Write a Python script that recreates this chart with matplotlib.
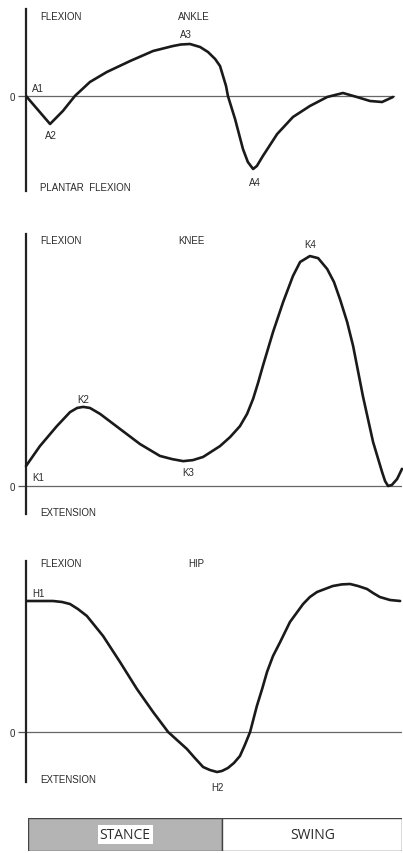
import matplotlib
matplotlib.use("Agg")
import matplotlib.pyplot as plt

# ---- data (gait cycle %, joint angle in degrees) ----
ankle_x = [0, 6.4, 9.8, 13.0, 17.0, 21.5, 27.7, 33.8, 39.1, 41.2, 43.6, 46.3, 48.4, 50.3, 51.6,
           52.4, 53.2, 53.7, 55.6, 57.7, 59.0, 60.4, 61.4, 63.0, 66.8, 71.0, 75.5, 80.1, 84.3,
           88.0, 91.5, 94.7, 97.6]
ankle_y = [0, -5.6, -3.0, 0, 2.8, 4.8, 7.0, 9.0, 10.0, 10.3, 10.4, 9.8, 8.8, 7.4, 6.0,
           4.0, 2.0, 0, -4.6, -10.6, -13.2, -14.6, -14.0, -12.0, -7.6, -4.2, -2.0, -0.2, 0.6,
           -0.2, -1.0, -1.2, -0.2]

knee_x = [0, 3.7, 8.2, 11.7, 13.6, 15.2, 17.0, 19.7, 25.0, 30.3, 35.6, 38.8, 41.8, 44.4, 47.1,
          51.6, 54.3, 56.9, 58.8, 60.4, 61.7, 63.0, 65.7, 68.4, 71.0, 72.9, 75.5, 77.7, 80.1,
          81.9, 83.5, 85.4, 87.0, 89.6, 92.3, 94.7, 95.5, 96.3, 97.3, 98.7, 100]
knee_y = [5.7, 11.4, 17.1, 21.1, 22.3, 22.6, 22.3, 20.6, 16.3, 12.0, 8.6, 7.7, 7.1, 7.4, 8.3,
          11.4, 14.0, 17.1, 20.6, 24.9, 29.4, 34.3, 44.0, 52.6, 60.0, 64.0, 65.7, 65.1, 62.0,
          58.3, 53.4, 46.9, 40.0, 25.7, 12.6, 4.0, 1.4, 0, 0.3, 2.0, 4.9]

hip_x = [0, 7.2, 9.6, 11.7, 13.8, 16.2, 20.5, 25.0, 29.5, 33.8, 37.8, 42.8, 44.9, 47.1, 48.9,
         50.8, 52.1, 53.7, 55.3, 56.9, 58.2, 59.6, 61.4, 62.8, 64.1, 65.7, 67.6, 70.2, 73.7,
         75.5, 77.4, 81.6, 84.0, 86.2, 88.3, 90.7, 92.3, 94.1, 96.8, 99.5]
hip_y = [32.75, 32.75, 32.5, 32.0, 30.75, 29.0, 24.0, 17.5, 10.75, 5.0, 0, -4.25, -6.5, -8.75, -9.5,
         -10.0, -9.75, -9.0, -7.75, -6.0, -3.25, 0, 6.5, 10.75, 15.0, 19.0, 22.5, 27.5, 32.0,
         33.75, 35.0, 36.5, 36.9, 37.0, 36.5, 35.75, 34.75, 33.75, 33.0, 32.75]

phases = ["STANCE", "SWING"]
phase_pct = [52, 48]
phase_colors = ["#b4b4b4", "#ffffff"]

W, H = 403, 854
fig = plt.figure(figsize=(W / 100, H / 100), dpi=100)
fig.patch.set_facecolor("white")

TXT = "#2a2a2a"
FONT = "Liberation Sans"
CURVE = dict(color="#1a1a1a", lw=1.9, solid_joinstyle="round", solid_capstyle="round", zorder=3)


def make_axes(top_px, bot_px, left_px=26, right_px=402):
    return fig.add_axes([left_px / W, 1 - bot_px / H, (right_px - left_px) / W, (bot_px - top_px) / H])


def style(ax, ylim, zero_xmax=1.0):
    ax.set_xlim(0, 100)
    ax.set_ylim(*ylim)
    for s in ["top", "right", "bottom"]:
        ax.spines[s].set_visible(False)
    ax.spines["left"].set_linewidth(1.6)
    ax.spines["left"].set_color("#222222")
    ax.set_xticks([])
    ax.set_yticks([0])
    ax.set_yticklabels(["0"], fontsize=7, color=TXT, family=FONT)
    ax.tick_params(axis="y", length=6, width=0.9, color="#555555", pad=2)
    ax.axhline(0, xmin=0, xmax=zero_xmax, color="#666666", lw=0.9, zorder=1)
    ax.patch.set_alpha(0)


def label(ax, x, y, s, ha="left"):
    ax.text(x, y, s, fontsize=7, color=TXT, family=FONT, ha=ha, va="center", clip_on=False)


# ---- Ankle ----
ax1 = make_axes(10, 192)
style(ax1, (-19, 17.4), zero_xmax=0.98)
ax1.plot(ankle_x, ankle_y, **CURVE)
label(ax1, 3.7, 16, "FLEXION")
label(ax1, 40.4, 16, "ANKLE")
label(ax1, 42.6, 12.4, "A3", ha="center")
label(ax1, 1.6, 1.6, "A1")
label(ax1, 6.6, -7.8, "A2", ha="center")
label(ax1, 60.9, -17.2, "A4", ha="center")
label(ax1, 3.7, -18.2, "PLANTAR  FLEXION")

# ---- Knee ----
ax2 = make_axes(235, 515)
style(ax2, (-8, 72))
ax2.plot(knee_x, knee_y, clip_on=False, **CURVE)
label(ax2, 3.7, 70.3, "FLEXION")
label(ax2, 40.4, 70.3, "KNEE")
label(ax2, 75.5, 69.1, "K4", ha="center")
label(ax2, 15.2, 24.9, "K2", ha="center")
label(ax2, 1.6, 2.6, "K1")
label(ax2, 43.1, 4.0, "K3", ha="center")
label(ax2, 3.7, -7.4, "EXTENSION")

# ---- Hip ----
ax3 = make_axes(562, 783)
style(ax3, (-12.5, 42.75))
ax3.plot(hip_x, hip_y, **CURVE)
label(ax3, 3.7, 42.25, "FLEXION")
label(ax3, 43.1, 42.25, "HIP")
label(ax3, 1.6, 34.75, "H1")
label(ax3, 3.7, -11.75, "EXTENSION")
label(ax3, 50.8, -13.75, "H2", ha="center")

# ---- Stance / swing bar ----
ax4 = make_axes(819, 852, left_px=28, right_px=402)
lefts = [0]
for p in phase_pct[:-1]:
    lefts.append(lefts[-1] + p)
ax4.barh([0], phase_pct, left=lefts, height=1.0, color=phase_colors, edgecolor="#444444", linewidth=1.0)
ax4.set_xlim(0, 100)
ax4.set_ylim(-0.5, 0.5)
ax4.axis("off")
for name, l, w in zip(phases, lefts, phase_pct):
    bbox = dict(facecolor="white", edgecolor="none", pad=1.5) if name == "STANCE" else None
    ax4.text(l + w / 2, 0, name, ha="center", va="center", fontsize=10, color=TXT,
             family="Open Sans", bbox=bbox)

fig.savefig("out.png", dpi=100, facecolor="white")
